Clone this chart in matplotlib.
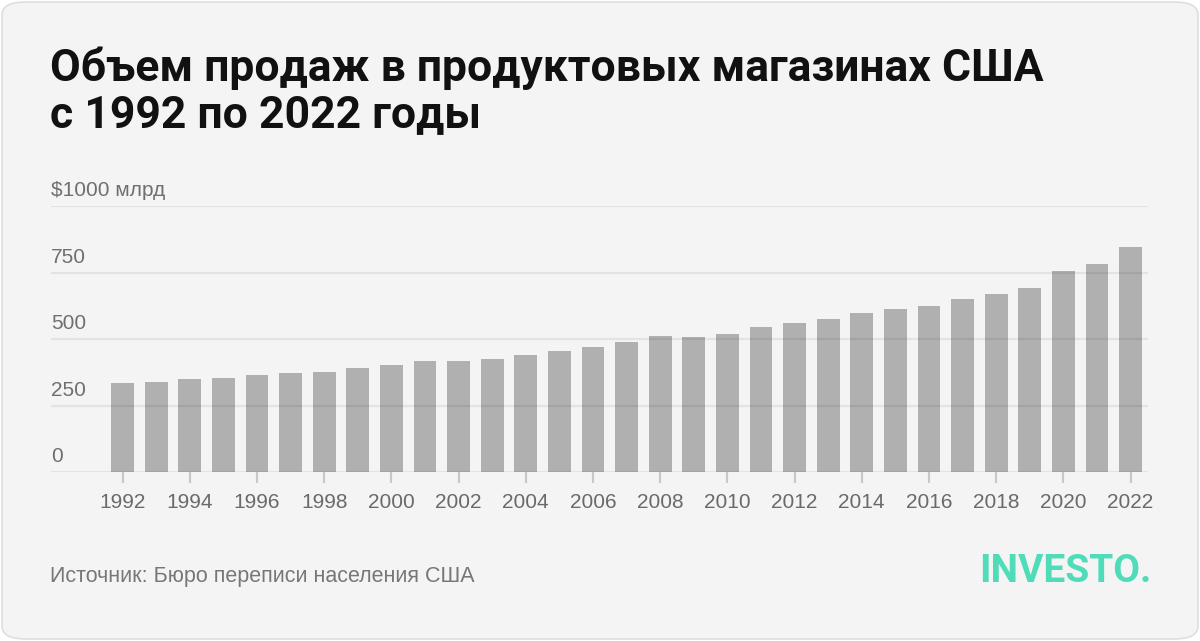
import matplotlib.pyplot as plt
from matplotlib.patches import FancyBboxPatch
from matplotlib.transforms import blended_transform_factory

# --- Data ---
years = list(range(1992, 2023))
sales = [335, 338, 350, 353, 365, 372, 376, 391, 402, 417,
         417, 425, 440, 455, 470, 489, 511, 508, 519, 545,
         560, 575, 598, 613, 624, 650, 669, 692, 756, 782, 846]
y_ticks = [0, 250, 500, 750, 1000]
y_labels = ['0', '250', '500', '750', '$1000 млрд']
x_ticks = list(range(1992, 2023, 2))

title_lines = ['Объем продаж в продуктовых магазинах США', 'с 1992 по 2022 годы']
source = 'Источник: Бюро переписи населения США'

# --- Figure ---
W, H = 1200, 641
fig = plt.figure(figsize=(W / 100, H / 100), dpi=100, facecolor='white')

card = FancyBboxPatch((2 / W, 2 / H), 1 - 4 / W, 1 - 4 / H,
                      boxstyle='round,pad=0,rounding_size=0.02',
                      transform=fig.transFigure, facecolor='#f4f4f4',
                      edgecolor='#dedede', linewidth=1.2, zorder=-1)
fig.patches.append(card)

ax = fig.add_axes([51 / W, 1 - 472 / H, (1148 - 51) / W, (472 - 206) / H])
ax.set_facecolor('none')

ax.bar(years, sales, width=0.68, color='#b0b0b0', zorder=1)

ax.set_xlim(1989.87, 2022.52)
ax.set_ylim(0, 1000)

for s in ax.spines.values():
    s.set_visible(False)

# gridlines on top of bars (show through them, as in the reference)
for v in y_ticks:
    ax.axhline(v, color='black', alpha=0.065, linewidth=1.6, zorder=2)

ax.set_yticks([])
trans = blended_transform_factory(ax.transAxes, ax.transData)
for v, lab in zip(y_ticks, y_labels):
    ax.text(0, v + 37, lab, transform=trans, ha='left', va='baseline',
            fontsize=15, color='#6f6f6f', family='Liberation Sans')

ax.set_xticks(x_ticks)
ax.set_xticklabels([str(y) for y in x_ticks])
ax.tick_params(axis='x', length=8, width=1.6, color='#c8c8c8', pad=7,
               labelsize=15, labelcolor='#6a6a6a')
for t in ax.get_xticklabels():
    t.set_family('Liberation Sans')

# --- Text ---
fig.text(50 / W, 1 - 81 / H, title_lines[0], fontsize=32, fontweight='bold',
         family='Roboto', color='#111111', va='baseline', ha='left')
fig.text(50 / W, 1 - 127 / H, title_lines[1], fontsize=32, fontweight='bold',
         family='Roboto', color='#111111', va='baseline', ha='left')

fig.text(50 / W, 1 - 582 / H, source, fontsize=15.5, color='#777777',
         family='Liberation Sans', va='baseline', ha='left')
fig.text(1152 / W, 1 - 582 / H, 'INVESTO.', fontsize=28, fontweight='bold',
         family='Roboto', color='#50dcb9', va='baseline', ha='right')

plt.savefig('out.png', dpi=100, facecolor='white')
